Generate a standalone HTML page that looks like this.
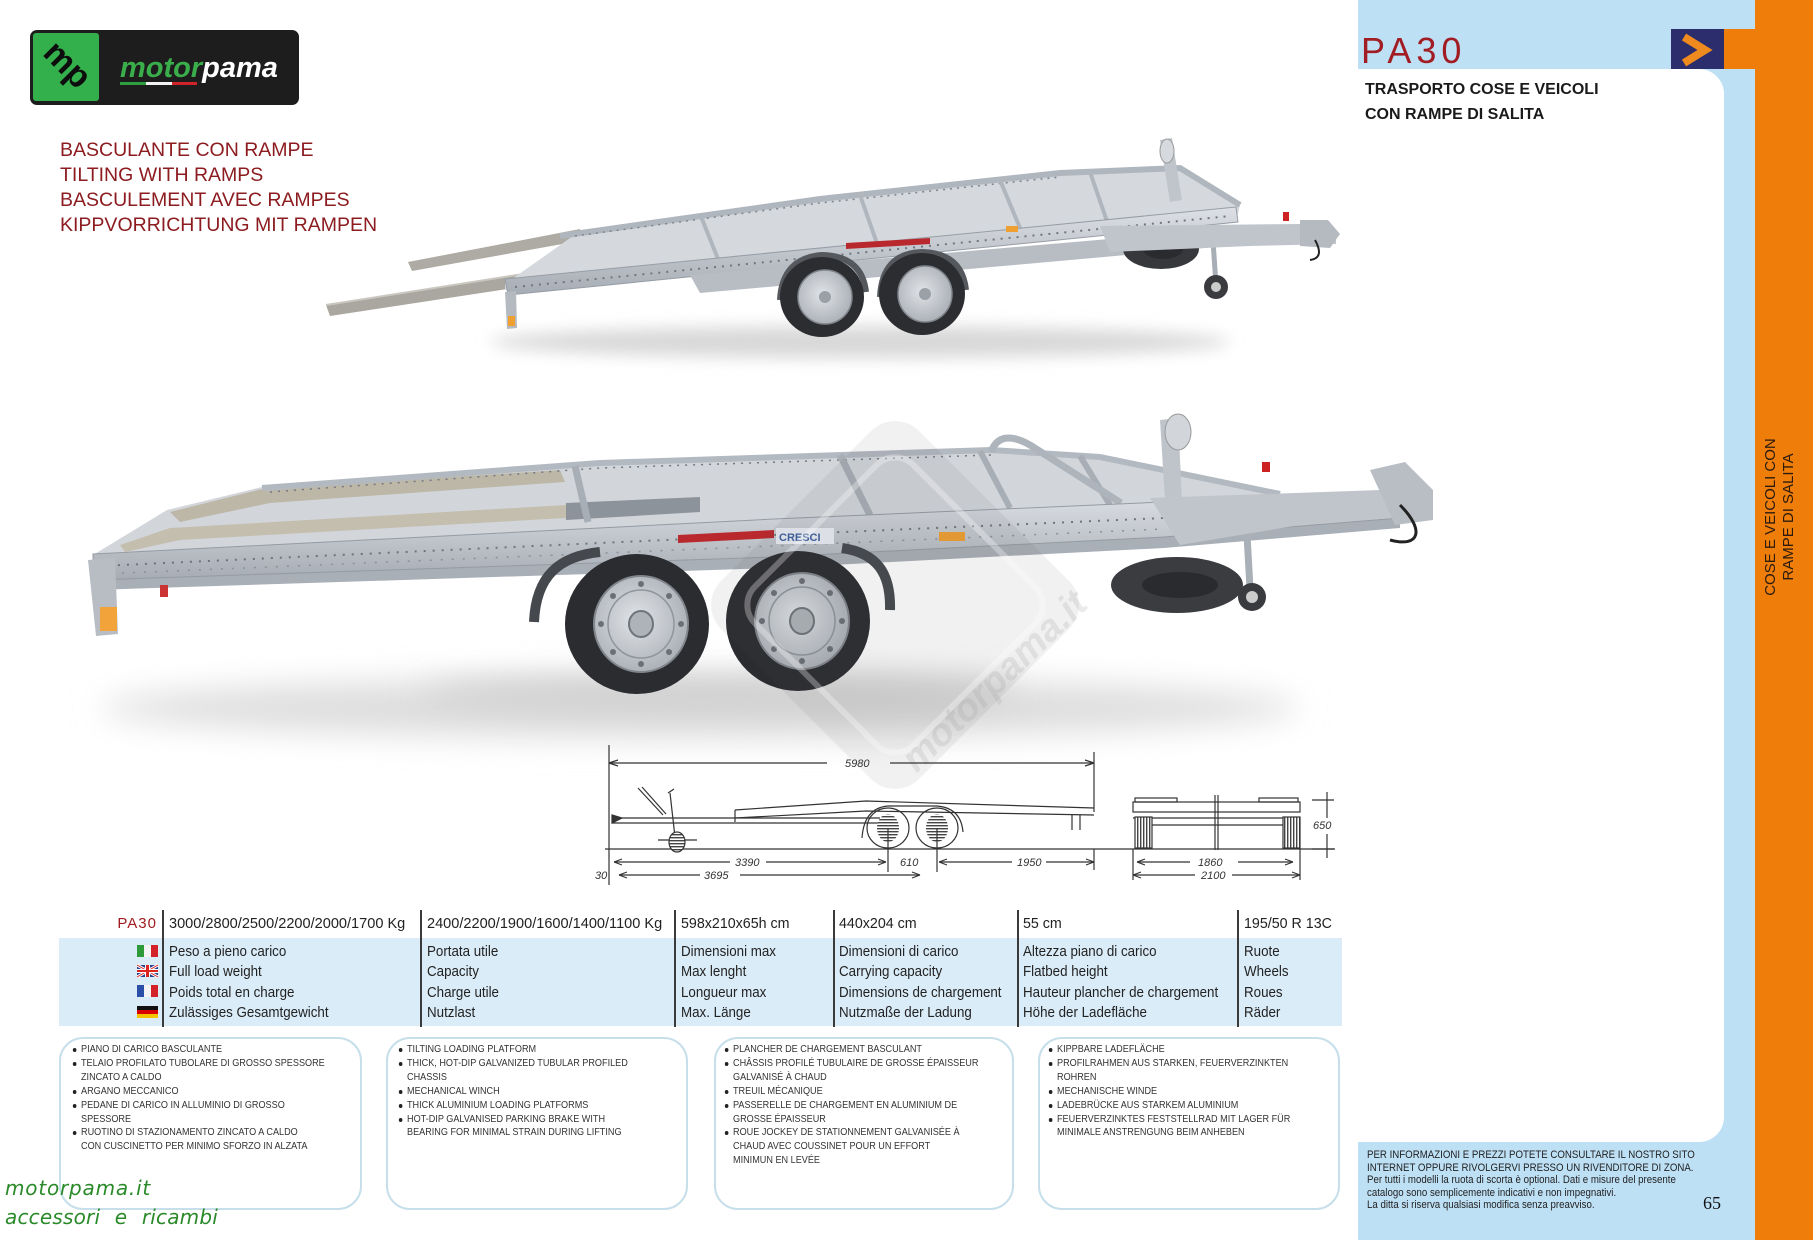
<!DOCTYPE html>
<html><head><meta charset="utf-8"><title>PA30</title>
<style>
*{margin:0;padding:0;box-sizing:border-box}
html,body{width:1813px;height:1240px;overflow:hidden;background:#fff}
#pg{position:relative;width:1813px;height:1240px;overflow:hidden;font-family:"Liberation Sans",sans-serif;color:#222;background:#fff}
.a{position:absolute;white-space:nowrap}
.red{color:#8c1c20;font-size:19.5px;line-height:25px;left:60px;top:138px}
.th{position:absolute;top:916px;font-size:15px;line-height:15px;transform:scaleX(.95);transform-origin:0 0;white-space:nowrap;color:#222}
.rows{position:absolute;top:941.5px;font-size:15px;line-height:20.5px;transform:scaleX(.89);transform-origin:0 0;white-space:nowrap;color:#222}
.sep{position:absolute;top:910px;width:1.5px;height:117px;background:#3a3a3a}
.box{position:absolute;top:1037px;height:173px;border:2px solid #c6dfea;border-radius:24px}
.ft{position:absolute;top:1043px;font-size:10px;line-height:13.9px;transform:scaleX(.91);transform-origin:0 0;color:#333;white-space:pre}
.ft div{position:relative}
.ft .b::before{content:"";position:absolute;left:-9px;top:5px;width:4px;height:4px;border-radius:50%;background:#222}
.gr{font-family:"DejaVu Sans",sans-serif;font-style:italic;color:#2a8a2a;font-size:20px;line-height:20px;left:5px}
</style></head>
<body><div id="pg">

<svg width="1813" height="1240" style="position:absolute;left:0;top:0">
<defs>
 <filter id="b8" x="-30%" y="-300%" width="160%" height="700%"><feGaussianBlur stdDeviation="8"/></filter>
 <filter id="b16" x="-30%" y="-300%" width="160%" height="700%"><feGaussianBlur stdDeviation="16"/></filter>
 <pattern id="hh" width="4" height="3" patternUnits="userSpaceOnUse"><rect width="4" height="3" fill="#fff"/><rect width="4" height="1.4" fill="#444"/></pattern>
 <pattern id="hv" width="3" height="4" patternUnits="userSpaceOnUse"><rect width="3" height="4" fill="#fff"/><rect width="1.4" height="4" fill="#444"/></pattern>
 <linearGradient id="rail" x1="0" y1="0" x2="0" y2="1"><stop offset="0" stop-color="#dde0e5"/><stop offset="1" stop-color="#a6acb4"/></linearGradient>
 <radialGradient id="rim" cx=".45" cy=".45" r=".6"><stop offset="0" stop-color="#e0e3e7"/><stop offset="1" stop-color="#a9aeb4"/></radialGradient>
</defs>

<!-- right side panels -->
<rect x="1358" y="0" width="397" height="1240" fill="#bee0f5"/>
<path d="M1330 69 H1699 A25 25 0 0 1 1724 94 V1117 A25 25 0 0 1 1699 1142 H1330 Z" fill="#fff"/>
<rect x="1755" y="0" width="58" height="1240" fill="#ee7d0a"/>
<rect x="1724" y="29" width="31" height="40" fill="#ee7d0a"/>
<rect x="1671" y="29" width="53" height="40" fill="#2b2d6c"/>
<polyline points="1684,37 1705,50 1684,63" fill="none" stroke="#ef8a1e" stroke-width="8"/>

<!-- logo -->
<rect x="30" y="30" width="269" height="75" rx="7" fill="#1d1d1d"/>
<rect x="33" y="33" width="66" height="68" rx="3" fill="#33b04c"/>
<text x="0" y="0" transform="translate(66,66) rotate(45)" font-family="Liberation Sans" font-weight="bold" font-size="34" text-anchor="middle" dominant-baseline="middle" fill="#0d0d0d">mp</text>
<text x="120" y="77" font-family="Liberation Sans" font-weight="bold" font-style="italic" font-size="29"><tspan fill="#3aae4b">motor</tspan><tspan fill="#ffffff">pama</tspan></text>
<rect x="120" y="82" width="26" height="3" fill="#2e9e42"/>
<rect x="146" y="82" width="26" height="3" fill="#f2f2f2"/>
<rect x="172" y="82" width="25" height="3" fill="#d1232a"/>

<!-- ========== TRAILER 1 ========== -->
<g>
 <ellipse cx="860" cy="342" rx="370" ry="16" fill="#d8d8d8" filter="url(#b8)"/>
 <polygon points="326,305 330,316 540,284 536,272" fill="#a9a79f"/>
 <line x1="326" y1="305" x2="536" y2="272" stroke="#c9c7c0" stroke-width="2"/>
 <polygon points="408,262 412,271 585,240 580,229" fill="#adaba3"/>
 <polygon points="505,284 580,231 820,198 1060,172 1175,168 1240,205 1238,214 505,290" fill="#d5d9de"/>
 <polyline points="560,236 820,199 1060,173 1180,168 1240,205" stroke="#b0b6be" stroke-width="6" fill="none"/>
 <polyline points="575,236 820,203 1060,177" stroke="#7f858d" stroke-width="1.5" stroke-dasharray="2 5" fill="none"/>
 <line x1="700" y1="214" x2="720" y2="264" stroke="#b0b6bd" stroke-width="4"/>
 <line x1="860" y1="195" x2="880" y2="252" stroke="#b0b6bd" stroke-width="4"/>
 <line x1="1000" y1="180" x2="1025" y2="240" stroke="#b0b6bd" stroke-width="4"/>
 <line x1="1090" y1="172" x2="1110" y2="230" stroke="#b0b6bd" stroke-width="4"/>
 <polygon points="505,279 1236,207 1238,222 508,295" fill="url(#rail)" stroke="#979da5" stroke-width="1"/>
 <line x1="515" y1="287" x2="1230" y2="216" stroke="#70767e" stroke-width="2" stroke-dasharray="2 6"/>
 <polygon points="690,275 1225,229 1227,246 700,293" fill="#b8bdc4"/>
 <polygon points="505,292 516,291 517,328 507,329" fill="#b5bac1"/>
 <rect x="508" y="316" width="7" height="10" fill="#f0a030"/>
 <path d="M780 300 Q782 258 822 255 Q862 256 866 292" stroke="#55585d" stroke-width="6" fill="none"/>
 <path d="M880 297 Q882 253 922 252 Q962 253 966 290" stroke="#55585d" stroke-width="6" fill="none"/>
 <ellipse cx="822" cy="297" rx="42" ry="40" fill="#2c2d31"/>
 <ellipse cx="825" cy="297" rx="27" ry="27" fill="url(#rim)" stroke="#80858b" stroke-width="1.5"/>
 <circle cx="825" cy="297" r="6" fill="#9aa0a6"/>
 <ellipse cx="922" cy="294" rx="43" ry="41" fill="#2c2d31"/>
 <ellipse cx="925" cy="294" rx="27" ry="28" fill="url(#rim)" stroke="#80858b" stroke-width="1.5"/>
 <circle cx="925" cy="294" r="6" fill="#9aa0a6"/>
 <ellipse cx="1161" cy="249" rx="38" ry="20" fill="#36383c"/>
 <ellipse cx="1163" cy="249" rx="20" ry="10" fill="#2a2b2e"/>
 <line x1="1212" y1="226" x2="1216" y2="285" stroke="#a8aeb5" stroke-width="5"/>
 <circle cx="1216" cy="287" r="12" fill="#3a3b3f"/>
 <circle cx="1216" cy="287" r="5" fill="#ccc"/>
 <polygon points="1100,226 1300,224 1336,232 1336,244 1250,246 1110,252" fill="#c0c5cc"/>
 <polygon points="1300,220 1328,220 1340,234 1330,248 1300,246" fill="#b5bac1"/>
 <rect x="1283" y="212" width="6" height="9" fill="#c22"/>
 <path d="M1315 240 q10 18 -5 20" stroke="#222" stroke-width="2" fill="none"/>
 <polygon points="1160,140 1172,138 1182,200 1170,202" fill="#c0c5cc"/>
 <ellipse cx="1167" cy="151" rx="7" ry="12" fill="#d6d9dd" stroke="#999"/>
 <polygon points="846,243 930,238 930,244 846,249" fill="#b8282c"/>
 <rect x="1006" y="226" width="12" height="6" fill="#f0a030"/>
</g>

<!-- ========== TRAILER 2 ========== -->
<g>
 <ellipse cx="700" cy="708" rx="600" ry="30" fill="#dddddd" filter="url(#b16)"/>
 <ellipse cx="720" cy="694" rx="300" ry="16" fill="#cdcdcd" filter="url(#b16)"/>
 <polygon points="93,555 167,510 262,487 600,463 991,449 1100,457 1280,494 1400,492 1164,503 774,520" fill="#d2d6db"/>
 <polygon points="170,512 262,489 560,470 565,482 270,503 180,522" fill="#bdb7a8"/>
 <polygon points="120,545 170,528 566,505 566,518 180,540 125,552" fill="#c4beaf"/>
 <polygon points="566,503 700,497 700,512 566,520" fill="#8d939b"/>
 <polyline points="262,488 600,463 991,450 1100,457 1280,494" stroke="#b3b9c1" stroke-width="6" fill="none"/>
 <polyline points="270,492 600,468 991,455" stroke="#737981" stroke-width="1.5" stroke-dasharray="2 6" fill="none"/>
 <line x1="575" y1="466" x2="588" y2="522" stroke="#a8aeb6" stroke-width="7"/>
 <line x1="840" y1="455" x2="870" y2="515" stroke="#a8aeb6" stroke-width="7"/>
 <line x1="980" y1="451" x2="1010" y2="508" stroke="#a8aeb6" stroke-width="6"/>
 <line x1="1080" y1="456" x2="1110" y2="505" stroke="#a8aeb6" stroke-width="6"/>
 <path d="M991 452 Q1000 428 1030 445 L1121 503" stroke="#aeb4bb" stroke-width="7" fill="none"/>
 <polygon points="1160,420 1178,418 1182,500 1165,500" fill="#bfc4cb"/>
 <ellipse cx="1178" cy="432" rx="13" ry="18" fill="#d2d5da" stroke="#999"/>
 <polygon points="93,580 774,557 1164,537 1400,518 1400,528 1164,548 774,568 93,590" fill="#a9afb7"/>
 <polygon points="93,554 774,519 1164,502 1400,493 1400,518 1164,537 774,557 93,580" fill="url(#rail)" stroke="#959ba3" stroke-width="1"/>
 <polyline points="100,566 774,535 1164,518 1390,506" stroke="#6e747c" stroke-width="2" stroke-dasharray="2 7" fill="none"/>
 <polyline points="100,574 774,546 1164,529" stroke="#8a9098" stroke-width="1.5" stroke-dasharray="2 9" fill="none"/>
 <polygon points="88,560 115,558 118,634 96,636" fill="#b8bdc4"/>
 <rect x="100" y="607" width="17" height="24" fill="#f2a33a"/>
 <rect x="160" y="585" width="8" height="12" fill="#c33"/>
 <path d="M534 622 C536 575 560 556 600 552" stroke="#45484d" stroke-width="10" fill="none"/>
 <path d="M890 610 C891 572 876 553 842 548" stroke="#45484d" stroke-width="10" fill="none"/>
 <ellipse cx="637" cy="624" rx="72" ry="70" fill="#2b2c30"/>
 <ellipse cx="641" cy="624" rx="47" ry="48" fill="url(#rim)" stroke="#81868c" stroke-width="2"/>
 <ellipse cx="641" cy="624" rx="33" ry="34" fill="none" stroke="#8f959b" stroke-width="1.5"/>
 <g fill="#6b7076">
  <circle cx="641" cy="584" r="3"/><circle cx="669" cy="596" r="3"/><circle cx="681" cy="624" r="3"/><circle cx="669" cy="652" r="3"/>
  <circle cx="641" cy="664" r="3"/><circle cx="613" cy="652" r="3"/><circle cx="601" cy="624" r="3"/><circle cx="613" cy="596" r="3"/>
 </g>
 <ellipse cx="641" cy="624" rx="12" ry="13" fill="#aeb3b9" stroke="#6f747a" stroke-width="2"/>
 <ellipse cx="798" cy="621" rx="72" ry="70" fill="#2b2c30"/>
 <ellipse cx="802" cy="621" rx="47" ry="48" fill="url(#rim)" stroke="#81868c" stroke-width="2"/>
 <ellipse cx="802" cy="621" rx="33" ry="34" fill="none" stroke="#8f959b" stroke-width="1.5"/>
 <g fill="#6b7076">
  <circle cx="802" cy="581" r="3"/><circle cx="830" cy="593" r="3"/><circle cx="842" cy="621" r="3"/><circle cx="830" cy="649" r="3"/>
  <circle cx="802" cy="661" r="3"/><circle cx="774" cy="649" r="3"/><circle cx="762" cy="621" r="3"/><circle cx="774" cy="593" r="3"/>
 </g>
 <ellipse cx="802" cy="621" rx="12" ry="13" fill="#aeb3b9" stroke="#6f747a" stroke-width="2"/>
 <ellipse cx="1177" cy="585" rx="66" ry="28" fill="#3a3c40"/>
 <ellipse cx="1180" cy="585" rx="38" ry="13" fill="#2a2b2e"/>
 <line x1="1245" y1="500" x2="1250" y2="588" stroke="#aab0b7" stroke-width="7"/>
 <circle cx="1252" cy="597" r="14" fill="#3a3b3f"/>
 <circle cx="1252" cy="597" r="6" fill="#ccc"/>
 <polygon points="1150,498 1380,490 1433,498 1433,515 1300,525 1180,545" fill="#c0c5cc"/>
 <polygon points="1370,470 1405,462 1433,490 1433,520 1395,525" fill="#b9bec5"/>
 <rect x="1262" y="462" width="8" height="10" fill="#c22"/>
 <path d="M1400 505 C1425 530 1420 548 1390 540" stroke="#222" stroke-width="3" fill="none"/>
 <polygon points="678,535 774,530 774,538 678,543" fill="#b8282c"/>
 <rect x="776" y="528" width="58" height="16" fill="#e9edf3"/>
 <text x="779" y="541" font-family="Liberation Sans" font-weight="bold" font-size="11" fill="#3c5fa0">CRESCI</text>
 <rect x="939" y="532" width="26" height="9" fill="#f0a030"/>
</g>

<!-- watermark -->
<g opacity="0.08">
 <rect x="-140" y="-140" width="280" height="280" rx="34" transform="translate(895,605) rotate(45)" fill="#555"/>
</g>
<rect x="-112" y="-112" width="224" height="224" rx="26" transform="translate(895,605) rotate(45)" fill="none" stroke="#fff" stroke-opacity="0.3" stroke-width="6"/>
<text x="0" y="0" transform="translate(1003,690) rotate(-44)" font-family="Liberation Sans" font-weight="bold" font-style="italic" font-size="38" text-anchor="middle" fill="#9a9a9a" fill-opacity="0.2">motorpama.it</text>

<!-- ========== TECH DRAWING ========== -->
<g stroke="#333" stroke-width="1.2" fill="none">
 <line x1="605" y1="849" x2="1335" y2="849"/>
 <line x1="609" y1="763" x2="827" y2="763"/>
 <line x1="890" y1="763" x2="1094" y2="763"/>
 <path d="M609 763 l9 -3 M609 763 l9 3 M1094 763 l-9 -3 M1094 763 l-9 3"/>
 <line x1="609" y1="745" x2="609" y2="885"/>
 <line x1="1094" y1="752" x2="1094" y2="812"/>
 <line x1="612" y1="818" x2="880" y2="818"/>
 <line x1="612" y1="823" x2="880" y2="823"/>
 <path d="M612 815 l10 3 l-10 5 z" fill="#333"/>
 <path d="M735 810 L866 801 L1094 808"/>
 <path d="M735 818 L866 811 L1094 815"/>
 <line x1="735" y1="810" x2="735" y2="822"/>
 <line x1="1072" y1="815" x2="1072" y2="830"/><line x1="1080" y1="815" x2="1080" y2="830"/>
 <path d="M862 838 Q864 808 888 806 L937 806 Q961 808 963 832"/>
 <ellipse cx="888" cy="828" rx="21" ry="20"/>
 <ellipse cx="888" cy="828" rx="11" ry="14" fill="url(#hh)" stroke="none"/>
 <ellipse cx="937" cy="828" rx="21" ry="20"/>
 <ellipse cx="937" cy="828" rx="11" ry="14" fill="url(#hh)" stroke="none"/>
 <line x1="670" y1="793" x2="675" y2="837"/>
 <path d="M668 793 l6 -4"/>
 <line x1="638" y1="788" x2="663" y2="815"/>
 <line x1="642" y1="787" x2="666" y2="814"/>
 <line x1="658" y1="840" x2="697" y2="840"/>
 <ellipse cx="677" cy="842" rx="8" ry="10" fill="url(#hh)"/>
 <line x1="614" y1="862" x2="730" y2="862"/>
 <line x1="766" y1="862" x2="886" y2="862"/>
 <line x1="939" y1="862" x2="1012" y2="862"/>
 <line x1="1046" y1="862" x2="1094" y2="862"/>
 <path d="M614 862 l8 -3 M614 862 l8 3 M886 862 l-8 -3 M886 862 l-8 3 M939 862 l8 -3 M939 862 l8 3 M1094 862 l-8 -3 M1094 862 l-8 3"/>
 <line x1="888" y1="828" x2="888" y2="872"/>
 <line x1="937" y1="828" x2="937" y2="872"/>
 <line x1="1094" y1="849" x2="1094" y2="870"/>
 <line x1="619" y1="875" x2="700" y2="875"/>
 <line x1="740" y1="875" x2="920" y2="875"/>
 <path d="M619 875 l8 -3 M619 875 l8 3 M920 875 l-8 -3 M920 875 l-8 3"/>
 <rect x="1133" y="802" width="167" height="10"/>
 <rect x="1135" y="798" width="42" height="4"/>
 <rect x="1259" y="798" width="39" height="4"/>
 <line x1="1133" y1="818" x2="1300" y2="818"/>
 <line x1="1150" y1="825" x2="1283" y2="825"/>
 <rect x="1135" y="817" width="17" height="31" fill="url(#hv)"/>
 <rect x="1283" y="817" width="17" height="31" fill="url(#hv)"/>
 <line x1="1215" y1="795" x2="1215" y2="850"/>
 <line x1="1218" y1="795" x2="1218" y2="850"/>
 <line x1="1133" y1="849" x2="1133" y2="880"/>
 <line x1="1300" y1="849" x2="1300" y2="880"/>
 <line x1="1137" y1="862" x2="1190" y2="862"/>
 <line x1="1238" y1="862" x2="1293" y2="862"/>
 <line x1="1133" y1="875" x2="1195" y2="875"/>
 <line x1="1232" y1="875" x2="1300" y2="875"/>
 <path d="M1133 875 l8 -3 M1133 875 l8 3 M1300 875 l-8 -3 M1300 875 l-8 3 M1137 862 l8 -3 M1137 862 l8 3 M1293 862 l-8 -3 M1293 862 l-8 3"/>
 <line x1="1327" y1="792" x2="1327" y2="818"/>
 <line x1="1327" y1="834" x2="1327" y2="858"/>
 <line x1="1312" y1="800" x2="1334" y2="800"/>
 <line x1="1312" y1="849" x2="1334" y2="849"/>
</g>
<g font-family="Liberation Sans" font-style="italic" font-size="11" fill="#333">
 <text x="845" y="767">5980</text>
 <text x="735" y="866">3390</text>
 <text x="900" y="866">610</text>
 <text x="1017" y="866">1950</text>
 <text x="704" y="879">3695</text>
 <text x="595" y="879">30</text>
 <text x="1198" y="866">1860</text>
 <text x="1201" y="879">2100</text>
 <text x="1313" y="829">650</text>
</g>

<!-- table band -->
<rect x="59" y="938" width="1283" height="88" fill="#daecf8"/>

<!-- flags -->
<g>
 <rect x="137" y="945" width="7" height="12" fill="#2e9a3a"/><rect x="144" y="945" width="7" height="12" fill="#f4f4f4"/><rect x="151" y="945" width="7" height="12" fill="#d4222a"/>
 <rect x="137" y="965" width="21" height="12" fill="#2b3f8f"/>
 <path d="M137 965 L158 977 M158 965 L137 977" stroke="#fff" stroke-width="3"/>
 <path d="M137 965 L158 977 M158 965 L137 977" stroke="#d22" stroke-width="1"/>
 <rect x="145" y="965" width="5" height="12" fill="#fff"/><rect x="137" y="969" width="21" height="4" fill="#fff"/>
 <rect x="146" y="965" width="3" height="12" fill="#d22"/><rect x="137" y="970" width="21" height="2" fill="#d22"/>
 <rect x="137" y="985" width="7" height="12" fill="#2a4fa8"/><rect x="144" y="985" width="7" height="12" fill="#f4f4f4"/><rect x="151" y="985" width="7" height="12" fill="#d4222a"/>
 <rect x="137" y="1006" width="21" height="4" fill="#111"/><rect x="137" y="1010" width="21" height="4" fill="#d80000"/><rect x="137" y="1014" width="21" height="4" fill="#f3c300"/>
</g>
</svg>

<!-- headings -->
<div class="a red">BASCULANTE CON RAMPE<br>TILTING WITH RAMPS<br>BASCULEMENT AVEC RAMPES<br>KIPPVORRICHTUNG MIT RAMPEN</div>

<div class="a" style="left:1361px;top:32.5px;font-size:36px;line-height:36px;letter-spacing:5px;color:#a11d23">PA30</div>
<div class="a" style="left:1365px;top:77px;font-size:16px;line-height:25px;font-weight:bold;color:#1a1a1a">TRASPORTO COSE E VEICOLI<br>CON RAMPE DI SALITA</div>

<div class="a" style="left:1679.5px;top:499px;width:200px;height:36px;font-size:15px;line-height:18px;text-align:center;color:#2b1b0e;transform:rotate(-90deg);transform-origin:50% 50%">COSE E VEICOLI CON<br>RAMPE DI SALITA</div>

<!-- table -->
<div class="a" style="left:100px;top:916px;width:57px;text-align:right;font-size:15px;line-height:15px;letter-spacing:1px;color:#a01c20">PA30</div>
<div class="sep" style="left:162px"></div>
<div class="sep" style="left:420px"></div>
<div class="sep" style="left:674px"></div>
<div class="sep" style="left:833px"></div>
<div class="sep" style="left:1017px"></div>
<div class="sep" style="left:1237px"></div>

<div class="th" style="left:169px;transform:scaleX(.97)">3000/2800/2500/2200/2000/1700 Kg</div>
<div class="th" style="left:427px;transform:scaleX(.97)">2400/2200/1900/1600/1400/1100 Kg</div>
<div class="th" style="left:681px">598x210x65h cm</div>
<div class="th" style="left:839px">440x204 cm</div>
<div class="th" style="left:1023px">55 cm</div>
<div class="th" style="left:1244px">195/50 R 13C</div>

<div class="rows" style="left:169px">Peso a pieno carico<br>Full load weight<br>Poids total en charge<br>Zulässiges Gesamtgewicht</div>
<div class="rows" style="left:427px">Portata utile<br>Capacity<br>Charge utile<br>Nutzlast</div>
<div class="rows" style="left:681px">Dimensioni max<br>Max lenght<br>Longueur max<br>Max. Länge</div>
<div class="rows" style="left:839px">Dimensioni di carico<br>Carrying capacity<br>Dimensions de chargement<br>Nutzmaße der Ladung</div>
<div class="rows" style="left:1023px">Altezza piano di carico<br>Flatbed height<br>Hauteur plancher de chargement<br>Höhe der Ladefläche</div>
<div class="rows" style="left:1244px">Ruote<br>Wheels<br>Roues<br>Räder</div>

<!-- feature boxes -->
<div class="box" style="left:59px;width:303px"></div>
<div class="box" style="left:386px;width:302px"></div>
<div class="box" style="left:714px;width:300px"></div>
<div class="box" style="left:1038px;width:302px"></div>

<div class="ft" style="left:81px"><div class="b">PIANO DI CARICO BASCULANTE</div><div class="b">TELAIO PROFILATO TUBOLARE DI GROSSO SPESSORE</div><div>ZINCATO A CALDO</div><div class="b">ARGANO MECCANICO</div><div class="b">PEDANE DI CARICO IN ALLUMINIO DI GROSSO</div><div>SPESSORE</div><div class="b">RUOTINO DI STAZIONAMENTO ZINCATO A CALDO</div><div>CON CUSCINETTO PER MINIMO SFORZO IN ALZATA</div></div>
<div class="ft" style="left:407px"><div class="b">TILTING LOADING PLATFORM</div><div class="b">THICK, HOT-DIP GALVANIZED TUBULAR PROFILED</div><div>CHASSIS</div><div class="b">MECHANICAL WINCH</div><div class="b">THICK ALUMINIUM LOADING PLATFORMS</div><div class="b">HOT-DIP GALVANISED PARKING BRAKE WITH</div><div>BEARING FOR MINIMAL STRAIN DURING LIFTING</div></div>
<div class="ft" style="left:733px"><div class="b">PLANCHER DE CHARGEMENT BASCULANT</div><div class="b">CHÂSSIS PROFILÉ TUBULAIRE DE GROSSE ÉPAISSEUR</div><div>GALVANISÉ À CHAUD</div><div class="b">TREUIL MÉCANIQUE</div><div class="b">PASSERELLE DE CHARGEMENT EN ALUMINIUM DE</div><div>GROSSE ÉPAISSEUR</div><div class="b">ROUE JOCKEY DE STATIONNEMENT GALVANISÉE À</div><div>CHAUD AVEC COUSSINET POUR UN EFFORT</div><div>MINIMUN EN LEVÉE</div></div>
<div class="ft" style="left:1057px"><div class="b">KIPPBARE LADEFLÄCHE</div><div class="b">PROFILRAHMEN AUS STARKEN, FEUERVERZINKTEN</div><div>ROHREN</div><div class="b">MECHANISCHE WINDE</div><div class="b">LADEBRÜCKE AUS STARKEM ALUMINIUM</div><div class="b">FEUERVERZINKTES FESTSTELLRAD MIT LAGER FÜR</div><div>MINIMALE ANSTRENGUNG BEIM ANHEBEN</div></div>

<!-- bottom left -->
<div class="a gr" style="top:1178px;letter-spacing:0.8px">motorpama.it</div>
<div class="a gr" style="top:1207px;word-spacing:8px;letter-spacing:0.2px">accessori e ricambi</div>

<!-- bottom right -->
<div class="a" style="left:1367px;top:1149px;font-size:11px;line-height:12.5px;transform:scaleX(.88);transform-origin:0 0;color:#222">PER INFORMAZIONI E PREZZI POTETE CONSULTARE IL NOSTRO SITO<br>INTERNET OPPURE RIVOLGERVI PRESSO UN RIVENDITORE DI ZONA.<br>Per tutti i modelli la ruota di scorta è optional. Dati e misure del presente<br>catalogo sono semplicemente indicativi e non impegnativi.<br>La ditta si riserva qualsiasi modifica senza preavviso.</div>
<div class="a" style="left:1703px;top:1194px;font-family:'Liberation Serif',serif;font-size:18px;line-height:18px;color:#111">65</div>

</div></body></html>
